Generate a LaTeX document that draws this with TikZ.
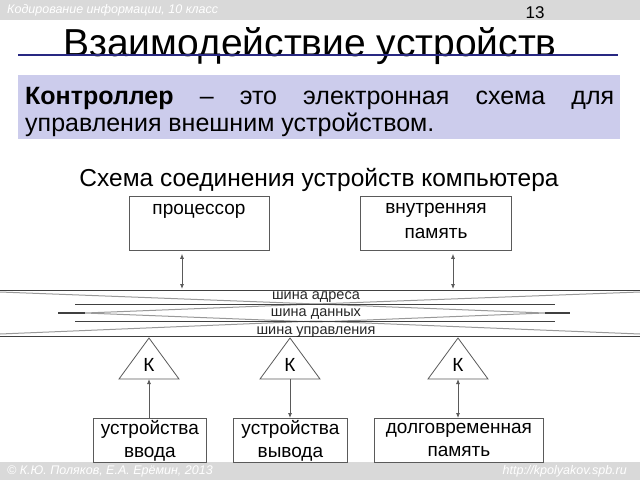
\documentclass[tikz,border=0pt]{standalone}
\usepackage{fontspec}
\setmainfont{Liberation Sans}
\usetikzlibrary{arrows.meta}
\definecolor{band}{RGB}{217,217,217}
\definecolor{lav}{RGB}{204,204,236}
\definecolor{navy}{RGB}{40,40,130}
\definecolor{edge}{RGB}{90,90,90}
\tikzset{
  box/.style={draw=edge, line width=0.8pt, inner sep=2pt, align=center, font=\fontsize{19}{23}\selectfont},
  lbl/.style={font=\fontsize{14.5}{16}\selectfont, text=black!85, inner sep=0pt},
  conn/.style={draw=edge, line width=0.8pt},
  tip/.style={-{Latex[length=5pt,width=4pt]}},
  tips/.style={{Latex[length=5pt,width=4pt]}-{Latex[length=5pt,width=4pt]}},
  busd/.style={draw=black!75, line width=0.8pt},
  busg/.style={draw=black!40, line width=1pt},
  tri/.style={draw=edge, line width=0.8pt, fill=white},
  ktext/.style={font=\fontsize{19}{20}\selectfont, inner sep=0pt},
  smalltxt/.style={text=white, font=\fontsize{12.5}{13}\selectfont\itshape, inner sep=0pt},
}
\begin{document}
\begin{tikzpicture}[x=1pt,y=-1pt]
\useasboundingbox (0,0) rectangle (640,480);
% header and footer bands
\fill[band] (0,0) rectangle (640,20);
\fill[band] (0,462) rectangle (640,480);
\node[smalltxt, anchor=west] (hdr) at (7,10) {Кодирование информации, 10 класс};
\node[font=\fontsize{17}{18}\selectfont, inner sep=0pt] (pg) at (535,13) {13};
\node[smalltxt, anchor=west] (ftr) at (7,471) {© К.Ю. Поляков, Е.А. Ерёмин, 2013};
\node[smalltxt, anchor=east] (url) at (627,471) {http://kpolyakov.spb.ru};
% title
\node[font=\fontsize{39}{42}\selectfont, inner sep=0pt] (title) at (310,46) {Взаимодействие устройств};
\draw[navy, line width=2pt] (18,55) -- (618,55);
% definition box
\fill[lav] (18,75) rectangle (620,139);
\node[anchor=north west, inner sep=0pt, text width=589pt, align=justify, font=\fontsize{25}{27}\selectfont] (def) at (25,87)
  {\textbf{Контроллер} – это электронная схема для управления внешним устройством.};
% subtitle
\node[font=\fontsize{24.5}{26}\selectfont, inner sep=0pt] (sub) at (319,180) {Схема соединения устройств компьютера};
% top boxes
\node[box, minimum width=140pt, minimum height=54pt, anchor=north west] (proc) at (129,196) {};
\node[font=\fontsize{19}{23}\selectfont, anchor=north, inner sep=0pt] (proct) at (199,204) {процессор};
\node[box, minimum width=151pt, minimum height=54pt, anchor=north west] (mem) at (360,196) {};
\node[font=\fontsize{19}{25}\selectfont, anchor=north, inner sep=0pt, align=center] (memt) at (436,203) {внутренняя\\память};
% bus
\coordinate (bt1) at (182,289);
\coordinate (bt2) at (453,289);
\draw[busg] (0,292) -- (316,304) -- (640,292);
\draw[busg] (0,334) -- (316,321) -- (640,334);
\draw[busg] (85,313) -- (316,304) -- (545,313) -- (316,322) -- cycle;
\draw[busd] (75,304) -- (555,304);
\draw[busd] (75,321) -- (555,321);
\draw[busd, line width=1.5pt] (58,313) -- (85,313);
\draw[busd, line width=1.5pt] (545,313) -- (570,313);
\draw[busd] (0,290) -- (640,290);
\draw[busd] (0,336) -- (640,336);
\node[lbl] (ba) at (316,297) {шина адреса};
\node[lbl] (bd) at (316,314) {шина данных};
\node[lbl] (bc) at (316,332) {шина управления};
% arrows to bus
\draw[conn, tips] (proc.south -| bt1) ++(0,3) -- (bt1);
\draw[conn, tips] (mem.south -| bt2) ++(0,3) -- (bt2);
% controllers
\draw[tri] (119,379) -- (149,338) -- (179,379) -- cycle;
\draw[tri] (260,379) -- (290,338) -- (320,379) -- cycle;
\draw[tri] (428,379) -- (458,338) -- (488,379) -- cycle;
\node[ktext] (k1) at (149,365) {К};
\node[ktext] (k2) at (290,365) {К};
\node[ktext] (k3) at (458,365) {К};
\coordinate (kb1) at (149,379);
\coordinate (kb2) at (290,379);
\coordinate (kb3) at (458,379);
% bottom boxes
\node[box, minimum width=113pt, minimum height=44pt, anchor=north west, text width=108pt, inner sep=1pt] (in) at (93,418) {устройства\\ввода};
\node[box, minimum width=114pt, minimum height=44pt, anchor=north west, text width=109pt, inner sep=1pt] (out) at (233,418) {устройства\\вывода};
\node[box, minimum width=169pt, minimum height=44pt, anchor=north west, text width=164pt, inner sep=1pt] (ltm) at (374,418) {долговременная\\память};
\draw[conn, tip] (in.north -| kb1) -- (kb1);
\draw[conn, tip] (kb2) -- (out.north -| kb2);
\draw[conn, tips] (kb3) -- (ltm.north -| kb3);
\end{tikzpicture}
\end{document}
